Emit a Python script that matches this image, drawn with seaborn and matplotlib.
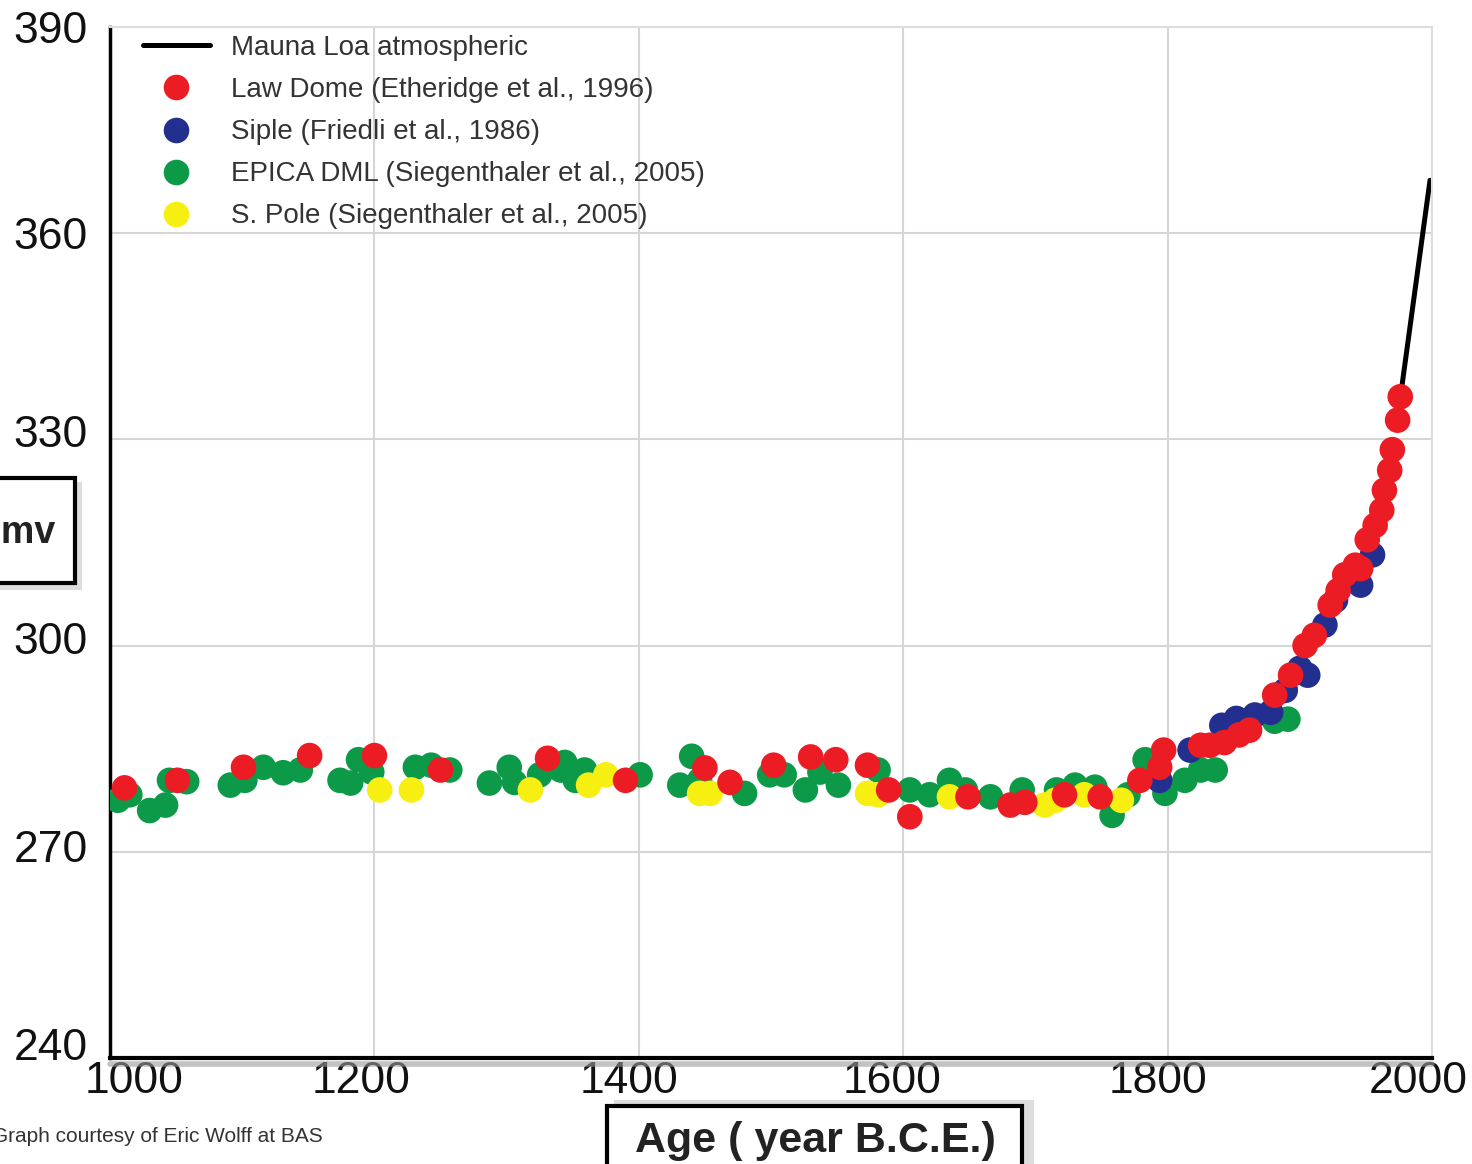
import numpy as np
import pandas as pd
import matplotlib
matplotlib.use("Agg")
import matplotlib.pyplot as plt
import seaborn as sns
from matplotlib.patches import Rectangle
from matplotlib.lines import Line2D
from matplotlib.transforms import ScaledTranslation

# ---------------- data ----------------
mauna_year = [1976, 1987, 1998.5]
mauna_ppm = [336.0, 351.5, 367.7]

law_year = [1011, 1051, 1101, 1151, 1200, 1250, 1331, 1390, 1450, 1469, 1502, 1530,
            1549, 1573, 1589, 1605, 1649, 1681, 1692, 1722, 1749, 1779, 1794, 1797,
            1825, 1832, 1843, 1854, 1862, 1881, 1893, 1904, 1911, 1923, 1929, 1934,
            1942, 1946, 1951, 1957, 1962, 1964, 1968, 1970, 1974, 1976]
law_ppm = [279.3, 280.4, 282.3, 284.0, 284.0, 281.9, 283.6, 280.4, 282.2, 280.1, 282.6, 283.8,
           283.4, 282.6, 279.0, 275.1, 278.0, 276.8, 277.2, 278.3, 278.0, 280.4, 282.3, 284.8,
           285.5, 285.5, 285.9, 287.0, 287.7, 292.8, 295.7, 300.0, 301.5, 305.9, 308.0, 310.3,
           311.7, 311.2, 315.4, 317.5, 319.7, 322.6, 325.5, 328.5, 332.8, 336.2]

siple_year = [1794, 1817, 1841, 1852, 1866, 1878, 1889, 1900, 1906, 1919, 1927, 1938, 1946, 1955]
siple_ppm = [280.4, 284.8, 288.4, 289.4, 289.9, 290.3, 293.5, 296.7, 295.7, 303.0, 306.6, 309.5,
             308.8, 313.2]

epica_year = [1006, 1015, 1030, 1042, 1045, 1058, 1091, 1102, 1116, 1131, 1144, 1174, 1182,
              1188, 1198, 1231, 1243, 1257, 1287, 1302, 1306, 1325, 1341, 1344, 1352, 1359,
              1401, 1431, 1440, 1446, 1480, 1499, 1510, 1526, 1537, 1551, 1581, 1605, 1620,
              1635, 1647, 1666, 1690, 1716, 1730, 1745, 1758, 1770, 1783, 1798, 1813, 1825,
              1836, 1881, 1891]
epica_ppm = [277.5, 278.3, 276.0, 276.8, 280.4, 280.2, 279.7, 280.4, 282.3, 281.5, 281.9, 280.4,
             280.0, 283.4, 281.6, 282.3, 282.6, 281.9, 280.0, 282.3, 280.1, 281.2, 281.9, 283.0,
             280.4, 281.9, 281.2, 279.7, 283.9, 280.4, 278.5, 281.2, 281.2, 279.0, 281.6, 279.7,
             281.9, 279.0, 278.3, 280.4, 279.0, 278.0, 279.0, 279.0, 279.7, 279.4, 275.3, 278.3,
             283.4, 278.5, 280.4, 281.9, 281.9, 289.0, 289.3]

pole_year = [1204, 1228, 1318, 1362, 1375, 1446, 1454, 1573, 1581, 1635, 1707, 1715, 1737, 1765]
pole_ppm = [279.0, 279.0, 279.0, 279.7, 281.2, 278.5, 278.5, 278.5, 278.3, 278.0, 276.8, 277.5,
            278.3, 277.5]

series_names = ["Law Dome (Etheridge et al., 1996)",
                "Siple (Friedli et al., 1986)",
                "EPICA DML (Siegenthaler et al., 2005)",
                "S. Pole (Siegenthaler et al., 2005)"]
line_name = "Mauna Loa atmospheric"
x_ticks = [1000, 1200, 1400, 1600, 1800, 2000]
y_ticks = [240, 270, 300, 330, 360, 390]

colors = {series_names[0]: "#ec1c24",
          series_names[1]: "#232f8e",
          series_names[2]: "#0c9a48",
          series_names[3]: "#f7ee12"}

# draw order: green, yellow, blue, red (red on top)
df = pd.concat([
    pd.DataFrame({"year": epica_year, "ppm": epica_ppm, "series": series_names[2]}),
    pd.DataFrame({"year": pole_year, "ppm": pole_ppm, "series": series_names[3]}),
    pd.DataFrame({"year": siple_year, "ppm": siple_ppm, "series": series_names[1]}),
    pd.DataFrame({"year": law_year, "ppm": law_ppm, "series": series_names[0]}),
], ignore_index=True)
ml = pd.DataFrame({"year": mauna_year, "ppm": mauna_ppm})

# ---------------- figure ----------------
sns.set_style("white")
plt.rcParams['font.family'] = ['Liberation Sans', 'DejaVu Sans']

W, H = 1472, 1164
fig = plt.figure(figsize=(W / 100, H / 100), dpi=100)
ax = fig.add_axes([110 / W, 1 - 1058 / H, (1432 - 110) / W, (1058 - 27) / H])

sns.scatterplot(data=df, x="year", y="ppm", hue="series", hue_order=series_names,
                palette=colors, s=340, linewidth=0, edgecolor="none", ax=ax,
                legend=True, zorder=3)
sns.lineplot(data=ml, x="year", y="ppm", color="black", linewidth=3.6, ax=ax,
             zorder=2, label=line_name)

ax.set_xlim(1000, 2000)
ax.set_ylim(240, 390)
ax.set_xticks(x_ticks)
ax.set_yticks(y_ticks)
ax.tick_params(axis="both", length=0)
ax.tick_params(axis="x", pad=2)
ax.tick_params(axis="y", pad=16)
ax.set_xticklabels([str(t) for t in x_ticks], fontsize=32, color="#111111")
ax.set_yticklabels([str(t) for t in y_ticks], fontsize=32, color="#111111")
ax.set_xlabel("")
ax.set_ylabel("")

# small per-label nudges, as in the reference layout (pixels)
x_nudge = {"1000": 24, "1200": -13, "1400": -10, "1600": -11, "1800": -10, "2000": -14}
y_nudge = {"240": 14, "270": 6, "300": 8, "330": 8, "360": 0, "390": 0}
for lab in ax.get_xticklabels():
    dx = x_nudge.get(lab.get_text(), 0)
    lab.set_transform(lab.get_transform() + ScaledTranslation(dx / 100, 0, fig.dpi_scale_trans))
for lab in ax.get_yticklabels():
    dy = y_nudge.get(lab.get_text(), 0)
    lab.set_transform(lab.get_transform() + ScaledTranslation(0, dy / 100, fig.dpi_scale_trans))

ax.grid(True, color="#d6d6d6", linewidth=1.5)
ax.set_axisbelow(True)
for side in ["top", "right"]:
    ax.spines[side].set_color("#dddddd")
    ax.spines[side].set_linewidth(1.5)
ax.spines["left"].set_color("black")
ax.spines["left"].set_linewidth(2.5)
ax.spines["bottom"].set_color("black")
ax.spines["bottom"].set_linewidth(3)

# shadow beneath the bottom axis line
ax.add_line(Line2D([0, 1], [-0.006, -0.006], transform=ax.transAxes, color="#9a9a9a",
                   linewidth=4, alpha=0.6, clip_on=False, zorder=1))

# legend: line first, then the four core series
handles, labels = ax.get_legend_handles_labels()
hmap = dict(zip(labels, handles))
order = [line_name] + series_names
leg = ax.legend([hmap[k] for k in order], order, loc="upper left",
                bbox_to_anchor=(0.0166, 1.003), frameon=False, fontsize=20,
                handlelength=2.4, handletextpad=0.75, labelspacing=0.58,
                borderaxespad=0.0, markerscale=1.0)
for t in leg.get_texts():
    t.set_color("#333333")

# y-axis label box (cut off at the left edge)
fig.patches.append(Rectangle((-60 / W, 1 - 590 / H), 142 / W, 108 / H,
                             transform=fig.transFigure, facecolor="#bdbdbd",
                             edgecolor="none", alpha=0.5, zorder=0))
fig.patches.append(Rectangle((-60 / W, 1 - 583 / H), 135 / W, 105 / H,
                             transform=fig.transFigure, facecolor="white",
                             edgecolor="black", linewidth=3, zorder=1))
fig.text(55 / W, 1 - 533 / H, "CO₂ ppmv", fontsize=27, fontweight="bold",
         ha="right", va="center", color="#222222", zorder=2)

# x-axis label box (cut off at the bottom edge)
fig.patches.append(Rectangle((614 / W, -20 / H), 420 / W, (1164 - 1100 + 20) / H,
                             transform=fig.transFigure, facecolor="#bdbdbd",
                             edgecolor="none", alpha=0.5, zorder=0))
fig.patches.append(Rectangle((607 / W, -20 / H), 415 / W, (1164 - 1106 + 20) / H,
                             transform=fig.transFigure, facecolor="white",
                             edgecolor="black", linewidth=3, zorder=1))
fig.text(815 / W, 1 - 1141 / H, "Age ( year B.C.E.)", fontsize=31, fontweight="bold",
         ha="center", va="center", color="#222222", zorder=2)

# credit
fig.text(-8 / W, 1 - 1137 / H, "Graph courtesy of Eric Wolff at BAS", fontsize=15,
         ha="left", va="center", color="#333333")

fig.savefig("out.png", dpi=100)
